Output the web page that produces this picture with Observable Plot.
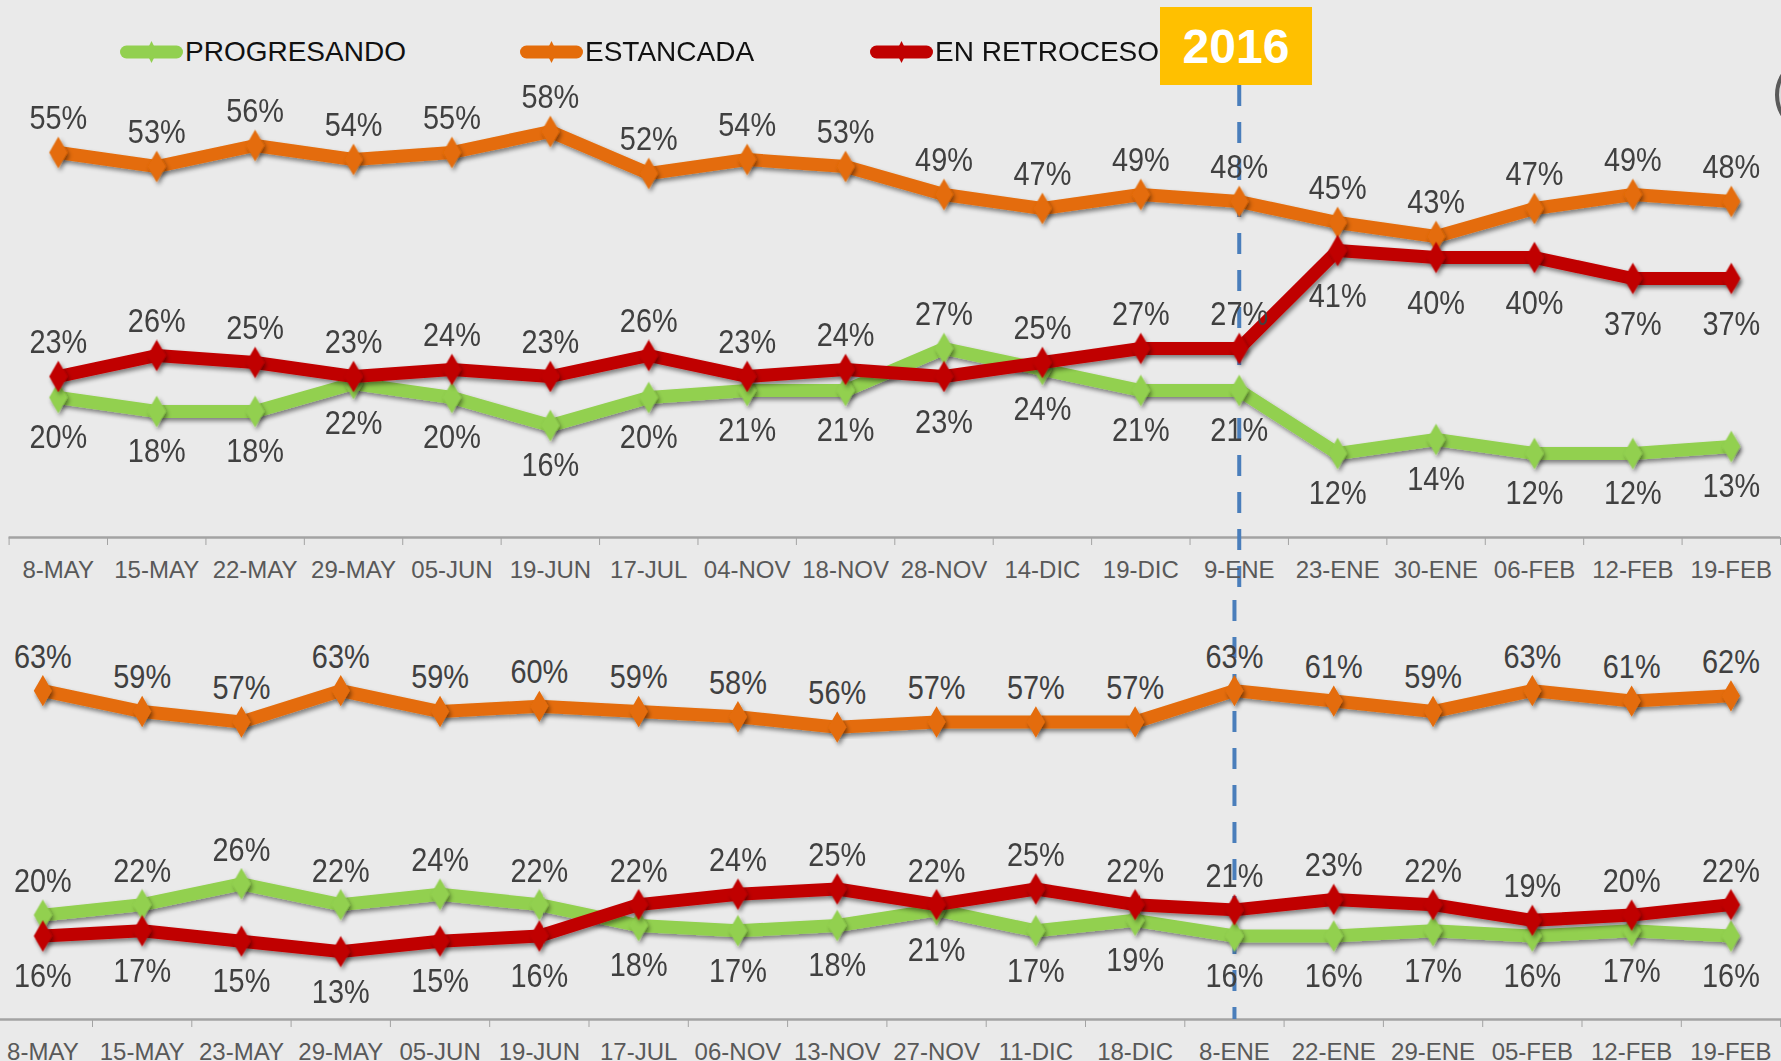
<!DOCTYPE html>
<html>
<head>
<meta charset="utf-8">
<script src="https://cdn.jsdelivr.net/npm/d3@7"></script>
<script src="https://cdn.jsdelivr.net/npm/@observablehq/plot@0.6"></script>
<style>
  html, body { margin: 0; padding: 0; background: #EAEAEA; }
  #wrap { position: relative; width: 1781px; height: 1061px; overflow: hidden; background: #EAEAEA; }
  .panel { position: absolute; left: 0; }
  .panel svg { overflow: visible; }
  .leg { position: absolute; top: 32px; height: 40px; display: flex; align-items: center;
         font-family: "Liberation Sans", Arial, sans-serif; font-size: 28px; color: #111; white-space: nowrap; }
  .leg svg { display: block; margin-right: 2px; }
  #year { position: absolute; left: 1160px; top: 7px; width: 152px; height: 78px; background: #FFC000;
          color: #fff; font-family: "Liberation Sans", Arial, sans-serif; font-weight: bold; font-size: 48px;
          display: flex; align-items: center; justify-content: center; }
  #edge { position: absolute; left: 1775px; top: 55px; width: 72px; height: 72px; border-radius: 50%;
          border: 4px solid #5a5a5a; background: #dcdcdc; }
</style>
</head>
<body>
<div id="wrap"></div>
<script>
// ---------- DATA ----------
const seriesNames  = ["PROGRESANDO", "ESTANCADA", "EN RETROCESO"];
const seriesColors = ["#92D050", "#E46C0A", "#C00000"];
const yearLabel = "2016";
const yearIndex = 12;

const topDates = ["8-MAY","15-MAY","22-MAY","29-MAY","05-JUN","19-JUN","17-JUL","04-NOV","18-NOV",
                  "28-NOV","14-DIC","19-DIC","9-ENE","23-ENE","30-ENE","06-FEB","12-FEB","19-FEB"];
const topProgresando = [20,18,18,22,20,16,20,21,21,27,24,21,21,12,14,12,12,13];
const topEstancada   = [55,53,56,54,55,58,52,54,53,49,47,49,48,45,43,47,49,48];
const topRetroceso   = [23,26,25,23,24,23,26,23,24,23,25,27,27,41,40,40,37,37];

const bottomDates = ["8-MAY","15-MAY","23-MAY","29-MAY","05-JUN","19-JUN","17-JUL","06-NOV","13-NOV",
                     "27-NOV","11-DIC","18-DIC","8-ENE","22-ENE","29-ENE","05-FEB","12-FEB","19-FEB"];
const bottomProgresando = [20,22,26,22,24,22,18,17,18,21,17,19,16,16,17,16,17,16];
const bottomEstancada   = [63,59,57,63,59,60,59,58,56,57,57,57,63,61,59,63,61,62];
const bottomRetroceso   = [16,17,15,13,15,16,22,24,25,22,25,22,21,23,22,19,20,22];

// ---------- DRAWING ----------
const wrap = document.getElementById("wrap");
const labelFont = '"Liberation Sans", Arial, sans-serif';
const tickFont = '"Liberation Sans", Arial, sans-serif';

function addShadow(svg, id) {
  const ns = "http://www.w3.org/2000/svg";
  const defs = document.createElementNS(ns, "defs");
  defs.innerHTML = `<filter id="${id}" x="-10%" y="-30%" width="120%" height="160%">
      <feDropShadow dx="2" dy="3" stdDeviation="2" flood-color="#000" flood-opacity="0.45"/></filter>`;
  svg.insertBefore(defs, svg.firstChild);
  svg.querySelectorAll('g[aria-label="line"], g[aria-label="dot"]').forEach(g => g.setAttribute("filter", `url(#${id})`));
}

// narrow the data labels horizontally (the original uses a condensed face)
function condenseLabels(svg, size, k) {
  svg.querySelectorAll('g[aria-label="text"]').forEach(g => {
    if (g.getAttribute("font-size") !== String(size)) return;
    g.querySelectorAll("text").forEach(t => {
      const tr = t.getAttribute("transform");
      if (tr) t.setAttribute("transform", tr + ` scale(${k},1)`);
      else {
        const x = +t.getAttribute("x") || 0, y = +t.getAttribute("y") || 0;
        t.removeAttribute("x"); t.removeAttribute("y");
        t.setAttribute("transform", `translate(${x},${y}) scale(${k},1)`);
      }
    });
  });
}

function panel(dates, P, E, R, cfg) {
  const vals = [P, E, R];
  const rows = [];
  vals.forEach((arr, s) => arr.forEach((v, i) => {
    let above;
    if (s === 1) above = true;
    else {
      const other = s === 0 ? R[i] : P[i];
      above = v > other && (E[i] - v) > 15;
    }
    rows.push({series: seriesNames[s], s, i, v, above});
  }));
  const bounds = d3.range(dates.length + 1).map(k => k - 0.5);

  const marks = [
    Plot.ruleY([0], {stroke: "#A3A3A3", strokeWidth: 2.5}),
    Plot.ruleX([yearIndex], {stroke: "#4A7EBB", strokeWidth: 4, strokeDasharray: "21,16",
      insetTop: cfg.dashTop, insetBottom: cfg.dashBottom})
  ];
  seriesNames.forEach((name, s) => {
    const d = rows.filter(r => r.s === s);
    marks.push(Plot.line(d, {x: "i", y: "v", stroke: seriesColors[s], strokeWidth: 13,
      strokeLinejoin: "round", strokeLinecap: "round"}));
    marks.push(Plot.dot(d, {x: "i", y: "v", symbol: "diamond", r: 9.5, fill: seriesColors[s], stroke: "none"}));
  });
  marks.push(Plot.text(rows.filter(r => r.above), {x: "i", y: "v", text: r => r.v + "%", dy: -34,
    fill: "#404040", fontSize: 34, fontFamily: labelFont}));
  marks.push(Plot.text(rows.filter(r => !r.above && !(r.s === 2 && cfg.redLow)), {x: "i", y: "v", text: r => r.v + "%", dy: 40,
    fill: "#404040", fontSize: 34, fontFamily: labelFont}));
  marks.push(Plot.text(rows.filter(r => !r.above && r.s === 2 && cfg.redLow), {x: "i", y: "v", text: r => r.v + "%", dy: 46,
    fill: "#404040", fontSize: 34, fontFamily: labelFont}));
  marks.push(Plot.text(dates, {x: (d, i) => i, y: 0, text: d => d, dy: 33,
    fill: "#595959", fontSize: 24, fontFamily: tickFont}));

  const plot = Plot.plot({
    width: 1781, height: cfg.height,
    marginTop: cfg.mt, marginBottom: cfg.mb, marginLeft: cfg.ml, marginRight: cfg.mr,
    style: {background: "transparent", color: "#A3A3A3", overflow: "visible"},
    x: {type: "linear", domain: cfg.xdom, ticks: bounds, tickFormat: () => "", tickSize: 8, label: null},
    y: {domain: [0, 70], axis: null},
    marks
  });
  addShadow(plot, cfg.id);
  condenseLabels(plot, 34, 0.85);
  const div = document.createElement("div");
  div.className = "panel";
  div.style.top = cfg.top + "px";
  div.appendChild(plot);
  wrap.appendChild(div);
}

panel(topDates, topProgresando, topEstancada, topRetroceso, {
  id: "shTop", top: 0, height: 600, mt: 47, mb: 63, ml: 8.6, mr: 1,
  xdom: [-0.5, 17.5], dashTop: 38, dashBottom: -63, redLow: true
});
panel(bottomDates, bottomProgresando, bottomEstancada, bottomRetroceso, {
  id: "shBot", top: 600, height: 461, mt: 53.6, mb: 42, ml: 0, mr: 0,
  xdom: [-0.4265, 17.509], dashTop: -53.6, dashBottom: 0, redLow: false
});

// legend
const legX = [120, 520, 870];
seriesNames.forEach((name, s) => {
  const el = document.createElement("div");
  el.className = "leg";
  el.style.left = legX[s] + "px";
  el.innerHTML = `<svg width="63" height="30" viewBox="0 0 63 30">
      <line x1="6.5" y1="15" x2="56.5" y2="15" stroke="${seriesColors[s]}" stroke-width="13" stroke-linecap="round"/>
      <path d="M31.5 4 L37 15 L31.5 26 L26 15 Z" fill="${seriesColors[s]}"/></svg><span>${name}</span>`;
  wrap.appendChild(el);
});

const yr = document.createElement("div");
yr.id = "year"; yr.textContent = yearLabel;
wrap.appendChild(yr);
const edge = document.createElement("div");
edge.id = "edge";
wrap.appendChild(edge);
</script>
</body>
</html>
